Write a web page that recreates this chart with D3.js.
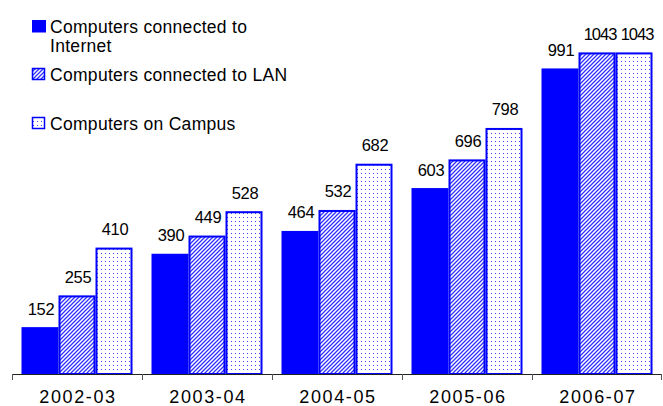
<!DOCTYPE html>
<html>
<head>
<meta charset="utf-8">
<script src="https://cdn.jsdelivr.net/npm/d3@7"></script>
<style>
  body { margin: 0; background: #fff; }
  text { font-family: "Liberation Sans", Arial, sans-serif; fill: #000; }
</style>
</head>
<body>
<svg id="chart" width="663" height="406"></svg>
<script>
// data
var years = ['2002-03', '2003-04', '2004-05', '2005-06', '2006-07'];
var internet = [152, 390, 464, 603, 991];
var lan = [255, 449, 532, 696, 1043];
var campus = [410, 528, 682, 798, 1043];
var series = [internet, lan, campus];

var svg = d3.select('#chart');
var blue = '#0000ff';

// patterns for the hatched and dotted bars
var defs = svg.append('defs');
var hatch = defs.append('pattern').attr('id', 'hatch').attr('patternUnits', 'userSpaceOnUse')
  .attr('width', 4).attr('height', 4);
hatch.append('rect').attr('width', 4).attr('height', 4).attr('fill', '#fff');
hatch.append('path').attr('d', 'M-1,1 l2,-2 M0,4 l4,-4 M3,5 l2,-2')
  .attr('stroke', '#3030ff').attr('stroke-width', 1.3);
var dots = defs.append('pattern').attr('id', 'dots').attr('patternUnits', 'userSpaceOnUse')
  .attr('width', 4).attr('height', 4);
dots.append('rect').attr('width', 4).attr('height', 4).attr('fill', '#fff');
dots.append('rect').attr('x', 1).attr('y', 1).attr('width', 1).attr('height', 1).attr('fill', '#4040ff');
var fills = [blue, 'url(#hatch)', 'url(#dots)'];

// scales
var x0 = d3.scaleBand().domain(years).range([12, 662]);
var x1 = d3.scaleBand().domain([0, 1, 2]).range([9.5, x0.bandwidth() - 9.5]);
var y = d3.scaleLinear().domain([0, 1200]).range([374, 4]);

// bars
var groups = svg.selectAll('g.year').data(years).enter().append('g')
  .attr('class', 'year')
  .attr('transform', function(d) { return 'translate(' + x0(d) + ',0)'; });

groups.each(function(yr, i) {
  var g = d3.select(this);
  series.forEach(function(s, k) {
    var bx = x1(k), bw = x1.bandwidth();
    var wide = s[i] >= 1000;                      // 4-digit labels are squeezed a little
    g.append('rect')
      .attr('x', bx + (k ? 1 : 0)).attr('y', y(s[i]) + (k ? 1 : 0))
      .attr('width', bw - (k ? 2 : 0)).attr('height', y(0) - y(s[i]) - (k ? 1 : 0))
      .attr('fill', fills[k])
      .attr('stroke', k ? blue : 'none').attr('stroke-width', 2);
    g.append('text')
      .attr('x', bx + bw / 2 + (wide ? 3 : 1)).attr('y', y(s[i]) - 12.5)
      .attr('text-anchor', 'middle').attr('font-size', 16.5)
      .attr('letter-spacing', wide ? -1 : -0.4)
      .text(s[i]);
  });
});

// x axis
var axis = svg.append('g');
axis.append('line').attr('x1', 12).attr('x2', 662).attr('y1', y(0) + 0.5).attr('y2', y(0) + 0.5)
  .attr('stroke', '#222').attr('stroke-width', 1);
var bounds = years.map(function(d) { return x0(d); }).concat([661]);
axis.selectAll('line.tick').data(bounds).enter().append('line')
  .attr('class', 'tick')
  .attr('x1', function(d) { return d + 0.5; }).attr('x2', function(d) { return d + 0.5; })
  .attr('y1', y(0)).attr('y2', y(0) + 6)
  .attr('stroke', '#555');
axis.selectAll('text').data(years).enter().append('text')
  .attr('x', function(d) { return x0(d) + x0.bandwidth() / 2 + 1; })
  .attr('y', 403).attr('text-anchor', 'middle').attr('font-size', 18)
  .attr('letter-spacing', 1.6)
  .text(function(d) { return d; });

// legend
var legendRows = [
  { lines: ['Computers connected to', 'Internet'], y: 20 },
  { lines: ['Computers connected to LAN'], y: 68 },
  { lines: ['Computers on Campus'], y: 117 }
];
var legend = svg.append('g');
legendRows.forEach(function(r, k) {
  legend.append('rect')
    .attr('x', 32 + (k ? 0.5 : 0)).attr('y', r.y + (k ? 0.5 : 0))
    .attr('width', k ? 12 : 14).attr('height', k ? 11 : 12.5)
    .attr('fill', fills[k]).attr('stroke', k ? blue : 'none').attr('stroke-width', 1.5);
  r.lines.forEach(function(t, j) {
    legend.append('text').attr('x', 50).attr('y', r.y + 12.5 + j * 19)
      .attr('font-size', 17.5).attr('letter-spacing', 0.3).text(t);
  });
});
</script>
</body>
</html>
